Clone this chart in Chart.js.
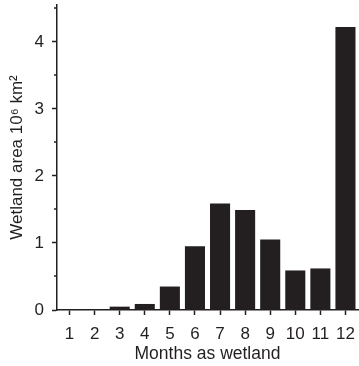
<!DOCTYPE html>
<html>
<head>
<meta charset="utf-8">
<script src="https://cdn.jsdelivr.net/npm/chart.js@4"></script>
<style>
html,body{margin:0;padding:0;background:#fff;}
#wrap{width:359px;height:366px;position:relative;}
</style>
</head>
<body>
<div id="wrap"><canvas id="c" width="359" height="366"></canvas></div>
<script>
const months = ["1","2","3","4","5","6","7","8","9","10","11","12"];
const wetlandArea = [0.005, 0.01, 0.05, 0.09, 0.35, 0.95, 1.59, 1.49, 1.05, 0.59, 0.62, 4.22];
const yMajorTicks = [0, 1, 2, 3, 4];
const yMinorTicks = [0.5, 1.5, 2.5, 3.5, 4.5];
const yMax = 4.55;

const ink = '#231f20';
const fontFam = '"Liberation Sans", Arial, Helvetica, sans-serif';

const minorTickPlugin = {
  id: 'minorTicks',
  afterDraw(chart) {
    const y = chart.scales.y;
    const ctx = chart.ctx;
    ctx.save();
    ctx.strokeStyle = ink;
    ctx.lineWidth = 1.5;
    yMinorTicks.forEach(v => {
      const py = Math.round(y.getPixelForValue(v));
      ctx.beginPath();
      ctx.moveTo(y.right - 3, py);
      ctx.lineTo(y.right, py);
      ctx.stroke();
    });
    ctx.restore();
  }
};

new Chart(document.getElementById('c'), {
  type: 'bar',
  data: {
    labels: months,
    datasets: [{
      data: wetlandArea,
      backgroundColor: ink,
      borderWidth: 0,
      barPercentage: 0.8,
      categoryPercentage: 1.0
    }]
  },
  options: {
    responsive: false,
    animation: false,
    devicePixelRatio: 1,
    layout: { padding: { top: 5, right: 1, left: 0, bottom: 0 } },
    plugins: { legend: { display: false }, tooltip: { enabled: false } },
    scales: {
      x: {
        offset: true,
        grid: { display: true, drawOnChartArea: false, offset: false, tickLength: 5, tickWidth: 1.5, tickColor: ink },
        border: { display: true, color: ink, width: 1.5 },
        ticks: { color: ink, font: { family: fontFam, size: 17 }, padding: 9, maxRotation: 0, autoSkip: false },
        title: { display: true, text: 'Months as wetland', color: ink, font: { family: fontFam, size: 17.5 }, padding: { top: 0, bottom: 1 } },
        afterFit(s) { s.height = 56; s.paddingLeft = 0; s.paddingRight = 0; }
      },
      y: {
        min: 0,
        max: yMax,
        afterBuildTicks(s) { s.ticks = yMajorTicks.map(v => ({ value: v })); },
        grid: { display: true, drawOnChartArea: false, tickLength: 5, tickWidth: 1.5, tickColor: ink },
        border: { display: true, color: ink, width: 1.5 },
        ticks: { color: ink, font: { family: fontFam, size: 17 }, padding: 8 },
        title: { display: true, text: 'Wetland area 10⁶ km²', color: ink, font: { family: fontFam, size: 17 }, padding: { top: 7, bottom: 0 } },
        afterFit(s) { s.width = 57; s.paddingTop = 0; s.paddingBottom = 0; }
      }
    }
  },
  plugins: [minorTickPlugin]
});
</script>
</body>
</html>
